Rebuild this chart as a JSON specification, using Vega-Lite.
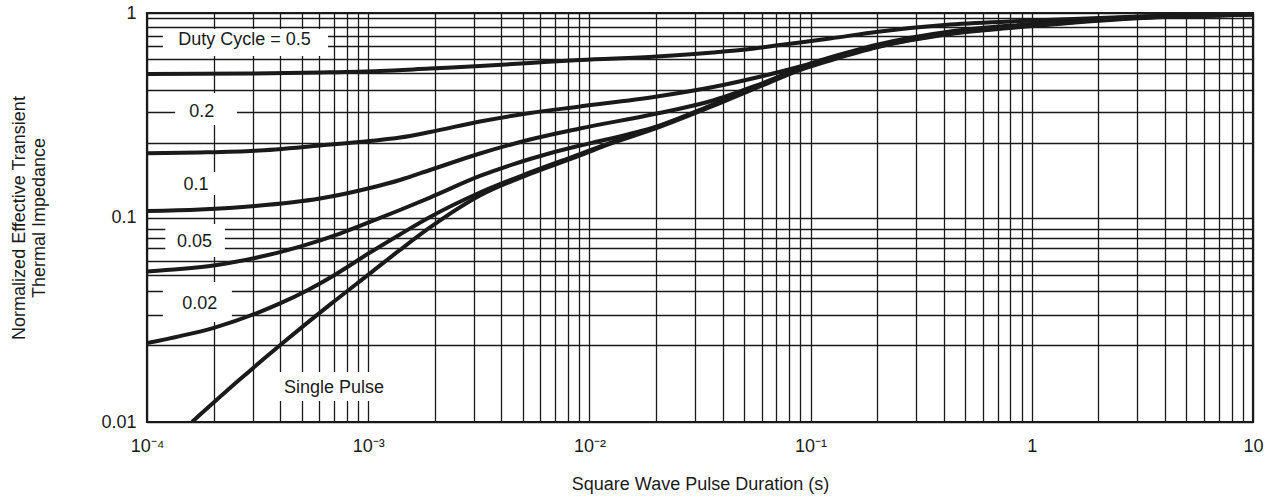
{
  "$schema": "https://vega.github.io/schema/vega-lite/v6.json",
  "autosize": {"type": "none"},
  "width": 1106,
  "height": 409,
  "padding": {"left": 147, "top": 13, "right": 19, "bottom": 75},
  "background": "white",
  "config": {
    "view": {"stroke": "#1a1a1a", "strokeWidth": 2.2},
    "font": "Liberation Sans",
    "axis": {
      "grid": true, "ticks": false, "domain": false,
      "gridColor": "#1a1a1a", "gridWidth": 1.3, "gridOpacity": 1,
      "labelColor": "#1a1a1a", "titleColor": "#1a1a1a",
      "labelFontSize": 18, "titleFontSize": 18, "titleFontWeight": "normal",
      "labelFont": "Liberation Sans", "titleFont": "Liberation Sans",
      "labelOverlap": false, "labelFlush": false
    }
  },
  "datasets": {
    "labels": [
      {"label": "Duty Cycle = 0.5", "t": 0.000276, "z": 0.738, "t1": 0.000118, "t2": 0.000658, "z1": 0.835, "z2": 0.616},
      {"label": "0.2", "t": 0.000177, "z": 0.329, "t1": 0.000134, "t2": 0.000255, "z1": 0.406, "z2": 0.283},
      {"label": "0.1", "t": 0.0001665, "z": 0.1442, "t1": 0.000138, "t2": 0.000232, "z1": 0.1669, "z2": 0.1288},
      {"label": "0.05", "t": 0.000164, "z": 0.0756, "t1": 0.000121, "t2": 0.000225, "z1": 0.0929, "z2": 0.0641},
      {"label": "0.02", "t": 0.000173, "z": 0.0376, "t1": 0.000118, "t2": 0.000242, "z1": 0.0484, "z2": 0.0308},
      {"label": "Single Pulse", "t": 0.0007, "z": 0.01462, "t1": 0.000391, "t2": 0.00128, "z1": 0.01756, "z2": 0.01267}
    ],
    "curves": [
      {"duty": "0.5", "t": 0.0001, "z": 0.5031},
      {"duty": "0.5", "t": 0.000292, "z": 0.506},
      {"duty": "0.5", "t": 0.000605, "z": 0.5117},
      {"duty": "0.5", "t": 0.00113, "z": 0.5204},
      {"duty": "0.5", "t": 0.0019, "z": 0.5353},
      {"duty": "0.5", "t": 0.0032, "z": 0.5506},
      {"duty": "0.5", "t": 0.00539, "z": 0.5697},
      {"duty": "0.5", "t": 0.00907, "z": 0.5893},
      {"duty": "0.5", "t": 0.0202, "z": 0.6131},
      {"duty": "0.5", "t": 0.0362, "z": 0.641},
      {"duty": "0.5", "t": 0.0532, "z": 0.6667},
      {"duty": "0.5", "t": 0.0727, "z": 0.6976},
      {"duty": "0.5", "t": 0.1224, "z": 0.7506},
      {"duty": "0.5", "t": 0.2017, "z": 0.81},
      {"duty": "0.5", "t": 0.4268, "z": 0.8786},
      {"duty": "0.5", "t": 1.012, "z": 0.919},
      {"duty": "0.5", "t": 2.868, "z": 0.9592},
      {"duty": "0.5", "t": 5.76, "z": 0.9777},
      {"duty": "0.5", "t": 10, "z": 0.9888},

      {"duty": "0.2", "t": 0.0001, "z": 0.206},
      {"duty": "0.2", "t": 0.0001736, "z": 0.2079},
      {"duty": "0.2", "t": 0.0003077, "z": 0.2121},
      {"duty": "0.2", "t": 0.0006054, "z": 0.2249},
      {"duty": "0.2", "t": 0.001019, "z": 0.2366},
      {"duty": "0.2", "t": 0.001392, "z": 0.2461},
      {"duty": "0.2", "t": 0.001903, "z": 0.2619},
      {"duty": "0.2", "t": 0.003201, "z": 0.2947},
      {"duty": "0.2", "t": 0.005387, "z": 0.3243},
      {"duty": "0.2", "t": 0.009067, "z": 0.3489},
      {"duty": "0.2", "t": 0.02021, "z": 0.3906},
      {"duty": "0.2", "t": 0.03621, "z": 0.4345},
      {"duty": "0.2", "t": 0.06091, "z": 0.492},
      {"duty": "0.2", "t": 0.08955, "z": 0.5475},
      {"duty": "0.2", "t": 0.1224, "z": 0.6062},
      {"duty": "0.2", "t": 0.2017, "z": 0.7015},
      {"duty": "0.2", "t": 0.4268, "z": 0.8119},
      {"duty": "0.2", "t": 1.012, "z": 0.8835},
      {"duty": "0.2", "t": 2.868, "z": 0.956},
      {"duty": "0.2", "t": 5.76, "z": 0.9777},
      {"duty": "0.2", "t": 10, "z": 0.9888},

      {"duty": "0.1", "t": 0.0001, "z": 0.1076},
      {"duty": "0.1", "t": 0.0001736, "z": 0.1094},
      {"duty": "0.1", "t": 0.0003077, "z": 0.1138},
      {"duty": "0.1", "t": 0.0006054, "z": 0.1238},
      {"duty": "0.1", "t": 0.001019, "z": 0.1394},
      {"duty": "0.1", "t": 0.001392, "z": 0.1526},
      {"duty": "0.1", "t": 0.001903, "z": 0.1707},
      {"duty": "0.1", "t": 0.003201, "z": 0.2056},
      {"duty": "0.1", "t": 0.005387, "z": 0.2406},
      {"duty": "0.1", "t": 0.009067, "z": 0.2725},
      {"duty": "0.1", "t": 0.02021, "z": 0.3225},
      {"duty": "0.1", "t": 0.03621, "z": 0.3734},
      {"duty": "0.1", "t": 0.06091, "z": 0.4545},
      {"duty": "0.1", "t": 0.08955, "z": 0.5322},
      {"duty": "0.1", "t": 0.1224, "z": 0.5994},
      {"duty": "0.1", "t": 0.2017, "z": 0.6937},
      {"duty": "0.1", "t": 0.4268, "z": 0.8028},
      {"duty": "0.1", "t": 1.012, "z": 0.8786},
      {"duty": "0.1", "t": 2.868, "z": 0.9506},
      {"duty": "0.1", "t": 5.76, "z": 0.9723},
      {"duty": "0.1", "t": 10, "z": 0.9888},

      {"duty": "0.05", "t": 0.0001, "z": 0.0545},
      {"duty": "0.05", "t": 0.000141, "z": 0.056},
      {"duty": "0.05", "t": 0.0002073, "z": 0.0586},
      {"duty": "0.05", "t": 0.0003143, "z": 0.0637},
      {"duty": "0.05", "t": 0.0004915, "z": 0.0721},
      {"duty": "0.05", "t": 0.0007457, "z": 0.0835},
      {"duty": "0.05", "t": 0.001019, "z": 0.0951},
      {"duty": "0.05", "t": 0.001392, "z": 0.1088},
      {"duty": "0.05", "t": 0.001903, "z": 0.1252},
      {"duty": "0.05", "t": 0.003201, "z": 0.1596},
      {"duty": "0.05", "t": 0.005387, "z": 0.1932},
      {"duty": "0.05", "t": 0.009067, "z": 0.2249},
      {"duty": "0.05", "t": 0.01117, "z": 0.2366},
      {"duty": "0.05", "t": 0.02021, "z": 0.2786},
      {"duty": "0.05", "t": 0.03621, "z": 0.3569},
      {"duty": "0.05", "t": 0.06091, "z": 0.4519},
      {"duty": "0.05", "t": 0.08955, "z": 0.5353},
      {"duty": "0.05", "t": 0.1224, "z": 0.596},
      {"duty": "0.05", "t": 0.2017, "z": 0.6937},
      {"duty": "0.05", "t": 0.4268, "z": 0.7983},
      {"duty": "0.05", "t": 1.012, "z": 0.8737},
      {"duty": "0.05", "t": 2.868, "z": 0.9506},
      {"duty": "0.05", "t": 5.76, "z": 0.9723},
      {"duty": "0.05", "t": 10, "z": 0.9833},

      {"duty": "0.02", "t": 0.0001, "z": 0.0243},
      {"duty": "0.02", "t": 0.000141, "z": 0.0263},
      {"duty": "0.02", "t": 0.0001988, "z": 0.0288},
      {"duty": "0.02", "t": 0.0003143, "z": 0.0341},
      {"duty": "0.02", "t": 0.0003993, "z": 0.038},
      {"duty": "0.02", "t": 0.0005289, "z": 0.044},
      {"duty": "0.02", "t": 0.0006933, "z": 0.0518},
      {"duty": "0.02", "t": 0.001019, "z": 0.0674},
      {"duty": "0.02", "t": 0.001392, "z": 0.0826},
      {"duty": "0.02", "t": 0.001903, "z": 0.1006},
      {"duty": "0.02", "t": 0.003201, "z": 0.1325},
      {"duty": "0.02", "t": 0.005387, "z": 0.166},
      {"duty": "0.02", "t": 0.009067, "z": 0.2044},
      {"duty": "0.02", "t": 0.01117, "z": 0.2224},
      {"duty": "0.02", "t": 0.02021, "z": 0.2771},
      {"duty": "0.02", "t": 0.03621, "z": 0.3549},
      {"duty": "0.02", "t": 0.06091, "z": 0.4494},
      {"duty": "0.02", "t": 0.08955, "z": 0.5322},
      {"duty": "0.02", "t": 0.1224, "z": 0.5927},
      {"duty": "0.02", "t": 0.2017, "z": 0.6859},
      {"duty": "0.02", "t": 0.4268, "z": 0.7941},
      {"duty": "0.02", "t": 1.012, "z": 0.8688},
      {"duty": "0.02", "t": 2.868, "z": 0.9453},
      {"duty": "0.02", "t": 5.76, "z": 0.9668},
      {"duty": "0.02", "t": 10, "z": 0.9833},

      {"duty": "single", "t": 0.0001597, "z": 0.01},
      {"duty": "single", "t": 0.0002632, "z": 0.01617},
      {"duty": "single", "t": 0.0004119, "z": 0.0244},
      {"duty": "single", "t": 0.0006719, "z": 0.0375},
      {"duty": "single", "t": 0.001019, "z": 0.0533},
      {"duty": "single", "t": 0.001392, "z": 0.0694},
      {"duty": "single", "t": 0.001903, "z": 0.0894},
      {"duty": "single", "t": 0.003201, "z": 0.1281},
      {"duty": "single", "t": 0.005387, "z": 0.1632},
      {"duty": "single", "t": 0.009067, "z": 0.201},
      {"duty": "single", "t": 0.01117, "z": 0.2199},
      {"duty": "single", "t": 0.02021, "z": 0.274},
      {"duty": "single", "t": 0.03621, "z": 0.3509},
      {"duty": "single", "t": 0.06091, "z": 0.4443},
      {"duty": "single", "t": 0.08955, "z": 0.5263},
      {"duty": "single", "t": 0.1224, "z": 0.586},
      {"duty": "single", "t": 0.2017, "z": 0.6821},
      {"duty": "single", "t": 0.4268, "z": 0.7894},
      {"duty": "single", "t": 1.012, "z": 0.8638},
      {"duty": "single", "t": 2.868, "z": 0.94},
      {"duty": "single", "t": 5.76, "z": 0.9668},
      {"duty": "single", "t": 10, "z": 0.9833}
    ]
  },
  "layer": [
    {
      "data": {"name": "labels"},
      "mark": {"type": "rect", "fill": "white", "stroke": null},
      "encoding": {
        "x": {"field": "t1", "type": "quantitative",
          "scale": {"type": "log", "domain": [0.0001, 10], "nice": false},
          "axis": {"title": "Square Wave Pulse Duration (s)",
            "values": [0.0001,0.0002,0.0003,0.0004,0.0005,0.0006,0.0007,0.0008,0.0009,0.001,0.002,0.003,0.004,0.005,0.006,0.007,0.008,0.009,0.01,0.02,0.03,0.04,0.05,0.06,0.07,0.08,0.09,0.1,0.2,0.3,0.4,0.5,0.6,0.7,0.8,0.9,1,2,3,4,5,6,7,8,9,10],
            "labelExpr": "datum.value == 0.0001 ? '10⁻⁴' : datum.value == 0.001 ? '10⁻³' : datum.value == 0.01 ? '10⁻²' : datum.value == 0.1 ? '10⁻¹' : datum.value == 1 ? '1' : datum.value == 10 ? '10' : ''",
            "labelPadding": 15, "titlePadding": 20}},
        "x2": {"field": "t2"},
        "y": {"field": "z1", "type": "quantitative",
          "scale": {"type": "log", "domain": [0.01, 1], "nice": false},
          "axis": {"title": ["Normalized Effective Transient", "Thermal Impedance"],
            "values": [0.01,0.0237,0.0335,0.0436,0.0525,0.0615,0.0712,0.0794,0.0876,0.1,0.2313,0.328,0.4215,0.511,0.598,0.687,0.772,0.854,0.942,1],
            "labelExpr": "datum.value == 1 ? '1' : datum.value == 0.1 ? '0.1' : datum.value == 0.01 ? '0.01' : ''",
            "labelPadding": 11, "titlePadding": 52, "titleLineHeight": 20}},
        "y2": {"field": "z2"}
      }
    },
    {
      "data": {"name": "curves"},
      "mark": {"type": "line", "color": "#1a1a1a", "strokeWidth": 4, "interpolate": "monotone", "clip": true},
      "encoding": {
        "x": {"field": "t", "type": "quantitative",
          "scale": {"type": "log", "domain": [0.0001, 10], "nice": false},
          "axis": {"title": "Square Wave Pulse Duration (s)",
            "values": [0.0001,0.0002,0.0003,0.0004,0.0005,0.0006,0.0007,0.0008,0.0009,0.001,0.002,0.003,0.004,0.005,0.006,0.007,0.008,0.009,0.01,0.02,0.03,0.04,0.05,0.06,0.07,0.08,0.09,0.1,0.2,0.3,0.4,0.5,0.6,0.7,0.8,0.9,1,2,3,4,5,6,7,8,9,10],
            "labelExpr": "datum.value == 0.0001 ? '10⁻⁴' : datum.value == 0.001 ? '10⁻³' : datum.value == 0.01 ? '10⁻²' : datum.value == 0.1 ? '10⁻¹' : datum.value == 1 ? '1' : datum.value == 10 ? '10' : ''",
            "labelPadding": 15, "titlePadding": 20}},
        "y": {"field": "z", "type": "quantitative",
          "scale": {"type": "log", "domain": [0.01, 1], "nice": false},
          "axis": {"title": ["Normalized Effective Transient", "Thermal Impedance"],
            "values": [0.01,0.0237,0.0335,0.0436,0.0525,0.0615,0.0712,0.0794,0.0876,0.1,0.2313,0.328,0.4215,0.511,0.598,0.687,0.772,0.854,0.942,1],
            "labelExpr": "datum.value == 1 ? '1' : datum.value == 0.1 ? '0.1' : datum.value == 0.01 ? '0.01' : ''",
            "labelPadding": 11, "titlePadding": 52, "titleLineHeight": 20}},
        "detail": {"field": "duty", "type": "nominal"}
      }
    },
    {
      "data": {"name": "labels"},
      "mark": {"type": "text", "color": "#1a1a1a", "fontSize": 18, "font": "Liberation Sans", "align": "center", "baseline": "middle"},
      "encoding": {
        "x": {"field": "t", "type": "quantitative",
          "scale": {"type": "log", "domain": [0.0001, 10], "nice": false},
          "axis": {"title": "Square Wave Pulse Duration (s)",
            "values": [0.0001,0.0002,0.0003,0.0004,0.0005,0.0006,0.0007,0.0008,0.0009,0.001,0.002,0.003,0.004,0.005,0.006,0.007,0.008,0.009,0.01,0.02,0.03,0.04,0.05,0.06,0.07,0.08,0.09,0.1,0.2,0.3,0.4,0.5,0.6,0.7,0.8,0.9,1,2,3,4,5,6,7,8,9,10],
            "labelExpr": "datum.value == 0.0001 ? '10⁻⁴' : datum.value == 0.001 ? '10⁻³' : datum.value == 0.01 ? '10⁻²' : datum.value == 0.1 ? '10⁻¹' : datum.value == 1 ? '1' : datum.value == 10 ? '10' : ''",
            "labelPadding": 15, "titlePadding": 20}},
        "y": {"field": "z", "type": "quantitative",
          "scale": {"type": "log", "domain": [0.01, 1], "nice": false},
          "axis": {"title": ["Normalized Effective Transient", "Thermal Impedance"],
            "values": [0.01,0.0237,0.0335,0.0436,0.0525,0.0615,0.0712,0.0794,0.0876,0.1,0.2313,0.328,0.4215,0.511,0.598,0.687,0.772,0.854,0.942,1],
            "labelExpr": "datum.value == 1 ? '1' : datum.value == 0.1 ? '0.1' : datum.value == 0.01 ? '0.01' : ''",
            "labelPadding": 11, "titlePadding": 52, "titleLineHeight": 20}},
        "text": {"field": "label", "type": "nominal"}
      }
    }
  ]
}
